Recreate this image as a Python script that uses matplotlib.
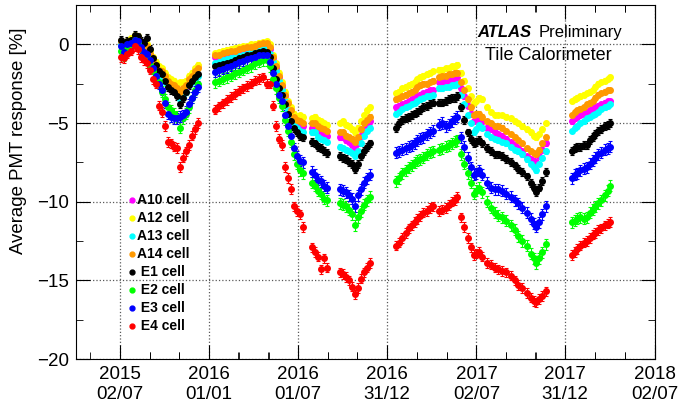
import matplotlib
matplotlib.use('Agg')
import matplotlib.pyplot as plt
import pandas as pd
from matplotlib.ticker import MultipleLocator

plt.rcParams['font.family'] = ['Liberation Sans', 'DejaVu Sans']

#------------------
# dates of the calibration runs (gaps = shutdowns)
dates = pd.to_datetime([
    # 2015
    '2015-07-04', '2015-07-10', '2015-07-16', '2015-07-25', '2015-08-02', '2015-08-08', '2015-08-14',
    '2015-08-20', '2015-08-26', '2015-09-02', '2015-09-08', '2015-09-14', '2015-09-20', '2015-09-26',
    '2015-10-02', '2015-10-08', '2015-10-15', '2015-10-21', '2015-10-27', '2015-11-02', '2015-11-08',
    '2015-11-14', '2015-11-20', '2015-11-27', '2015-12-03', '2015-12-09',
    # 2016
    '2016-01-13', '2016-01-21', '2016-01-30', '2016-02-07', '2016-02-15', '2016-02-23', '2016-03-02',
    '2016-03-11', '2016-03-19', '2016-03-27', '2016-04-04', '2016-04-12', '2016-04-21', '2016-04-29',
    '2016-05-05', '2016-05-11', '2016-05-17', '2016-05-23', '2016-05-30', '2016-06-05', '2016-06-11',
    '2016-06-17', '2016-06-23', '2016-06-29', '2016-07-05', '2016-07-12',
    '2016-07-30', '2016-08-05', '2016-08-11', '2016-08-17', '2016-08-24', '2016-08-30',
    '2016-09-25', '2016-10-01', '2016-10-08', '2016-10-14', '2016-10-20', '2016-10-26', '2016-11-01',
    '2016-11-07', '2016-11-13', '2016-11-19', '2016-11-25',
    # 2017
    '2017-01-19', '2017-01-25', '2017-01-31', '2017-02-07', '2017-02-13', '2017-02-19', '2017-02-25',
    '2017-03-03', '2017-03-09', '2017-03-15', '2017-03-22', '2017-03-28', '2017-04-03',
    '2017-04-17', '2017-04-23', '2017-04-30', '2017-05-06', '2017-05-12', '2017-05-18', '2017-05-24',
    '2017-06-01', '2017-06-07', '2017-06-14', '2017-06-20', '2017-06-26', '2017-07-02', '2017-07-08',
    '2017-07-14', '2017-07-23', '2017-07-31', '2017-08-08', '2017-08-16', '2017-08-24', '2017-09-01',
    '2017-09-10', '2017-09-18', '2017-09-26', '2017-10-04', '2017-10-13', '2017-10-21', '2017-10-27',
    '2017-11-02', '2017-11-08', '2017-11-14', '2017-11-21',
    # 2018
    '2018-01-13', '2018-01-19', '2018-01-25', '2018-01-31', '2018-02-07', '2018-02-13', '2018-02-19',
    '2018-02-25', '2018-03-03', '2018-03-09', '2018-03-15', '2018-03-22', '2018-03-28', '2018-04-01',
])

a10 = [0.1, -0.3, 0.1, 0.3, 0.5, 0.4, 0.0, -0.3, -0.2, -0.6, -1.0, -1.3, -1.6, -1.8, -2.1, -2.4, -2.5, -2.7, -2.9, -3.1, -2.9, -2.7, -2.3, -2.0, -1.7, -1.4,
       -0.8, -0.75, -0.65, -0.6, -0.55, -0.5, -0.4, -0.35, -0.3, -0.25, -0.2, -0.1, 0.0, 0.0, -0.3, -0.9, -1.5, -2.1, -2.7, -3.3, -3.9, -4.4, -4.8, -5.0, -5.1, -5.2,
       -5.3, -5.3, -5.5, -5.6, -5.7, -5.8,
       -5.9, -5.9, -6.1, -6.2, -6.4, -6.6, -6.3, -5.8, -5.4, -5.1, -4.9,
       -4.0, -3.9, -3.8, -3.7, -3.6, -3.5, -3.4, -3.3, -3.2, -3.1, -3.0, -2.9, -2.9,
       -2.4, -2.4, -2.3, -2.3, -2.2, -2.2, -2.1,
       -2.8, -3.3, -3.9, -4.4, -4.9, -4.8, -4.7, -4.9, -5.3, -5.4, -5.6, -5.7, -5.8, -6.0, -6.2, -6.4, -6.6, -6.8, -7.1, -7.3, -7.4, -7.5, -7.1, -6.7, -6.3,
       -4.9, -4.7, -4.6, -4.5, -4.4, -4.3, -4.2, -4.1, -4.0, -3.9, -3.8, -3.7, -3.6, -3.6]
a12 = [0.2, -0.2, 0.2, 0.4, 0.6, 0.5, 0.1, -0.2, 0.0, -0.4, -0.8, -1.1, -1.4, -1.5, -1.8, -2.1, -2.2, -2.3, -2.5, -2.4, -2.4, -2.3, -2.0, -1.8, -1.5, -1.3,
       -0.55, -0.5, -0.4, -0.35, -0.3, -0.25, -0.2, -0.1, -0.1, 0.0, 0.0, 0.1, 0.15, 0.2, 0.0, -0.7, -1.2, -1.8, -2.4, -3.0, -3.6, -4.0, -4.4, -4.6, -4.5, -4.6,
       -4.7, -4.6, -4.8, -4.9, -5.0, -5.1,
       -5.0, -4.9, -5.1, -5.2, -5.4, -5.6, -5.3, -4.9, -4.5, -4.2, -4.0,
       -3.1, -3.0, -2.8, -2.7, -2.6, -2.5, -2.4, -2.2, -2.1, -2.0, -1.9, -1.8, -1.7,
       -1.6, -1.6, -1.5, -1.5, -1.4, -1.4, -1.3,
       -1.8, -2.3, -2.8, -3.3, -3.7, -3.6, -3.4, -3.5, -4.0, -4.3, -4.5, -4.5, -4.5, -4.6, -4.7, -4.9, -5.0, -5.2, -5.4, -5.6, -5.8, -5.9, -5.7, -5.4, -5.0,
       -3.6, -3.5, -3.4, -3.3, -3.2, -3.1, -3.0, -2.9, -2.7, -2.5, -2.4, -2.3, -2.2, -2.1]
a13 = [0.0, -0.4, 0.0, 0.2, 0.4, 0.2, -0.2, -0.5, -0.3, -0.8, -1.2, -1.5, -1.8, -2.0, -2.4, -2.7, -2.8, -2.9, -3.1, -3.5, -3.2, -3.0, -2.6, -2.4, -2.2, -2.0,
       -1.2, -1.1, -1.0, -0.95, -0.9, -0.8, -0.75, -0.65, -0.6, -0.5, -0.45, -0.35, -0.3, -0.3, -0.6, -1.1, -1.7, -2.3, -2.9, -3.6, -4.2, -4.8, -5.1, -5.3, -5.5, -5.6,
       -5.6, -5.6, -5.9, -6.0, -6.1, -6.2,
       -6.5, -6.6, -6.7, -6.8, -6.9, -7.1, -6.8, -6.3, -5.8, -5.5, -5.3,
       -4.4, -4.3, -4.1, -4.0, -3.9, -3.8, -3.7, -3.6, -3.5, -3.4, -3.3, -3.3, -3.2,
       -2.8, -2.8, -2.7, -2.7, -2.6, -2.6, -2.5,
       -3.2, -3.8, -4.5, -5.0, -5.6, -5.4, -5.1, -5.3, -5.7, -5.9, -6.0, -6.1, -6.2, -6.3, -6.5, -6.7, -6.8, -7.0, -7.3, -7.6, -7.8, -8.0, -7.6, -7.2, -6.8,
       -5.5, -5.3, -5.2, -5.0, -4.9, -4.7, -4.6, -4.5, -4.4, -4.3, -4.1, -4.0, -3.9, -3.8]
a14 = [0.2, -0.3, 0.1, 0.3, 0.5, 0.4, 0.0, -0.3, -0.1, -0.6, -1.0, -1.3, -1.6, -1.7, -2.0, -2.3, -2.5, -2.6, -2.8, -3.0, -2.8, -2.6, -2.2, -2.0, -1.7, -1.5,
       -0.7, -0.65, -0.55, -0.5, -0.45, -0.4, -0.3, -0.25, -0.2, -0.15, -0.1, 0.0, 0.1, 0.1, -0.2, -0.8, -1.4, -2.0, -2.6, -3.2, -3.7, -4.2, -4.6, -4.8, -4.9, -5.0,
       -5.0, -5.0, -5.2, -5.3, -5.4, -5.5,
       -5.6, -5.6, -5.8, -5.9, -6.0, -6.2, -5.9, -5.4, -5.0, -4.8, -4.6,
       -3.5, -3.4, -3.3, -3.2, -3.1, -3.0, -2.9, -2.7, -2.6, -2.5, -2.5, -2.4, -2.3,
       -2.1, -2.0, -2.0, -1.9, -1.9, -1.8, -1.8,
       -2.4, -2.9, -3.5, -4.0, -4.5, -4.4, -4.4, -4.6, -4.9, -5.0, -5.2, -5.2, -5.3, -5.5, -5.7, -5.9, -6.1, -6.3, -6.6, -6.8, -6.9, -7.0, -6.7, -6.3, -5.9,
       -4.5, -4.3, -4.2, -4.1, -4.0, -3.8, -3.7, -3.6, -3.4, -3.2, -3.1, -3.0, -2.9, -2.9]
e1 = [0.3, -0.1, 0.2, 0.3, 0.6, 0.5, 0.2, 0.1, 0.4, -0.3, -0.9, -1.3, -1.7, -1.9, -2.3, -2.7, -2.9, -3.0, -3.3, -3.8, -3.4, -3.0, -2.6, -2.3, -2.1, -1.9,
      -1.4, -1.3, -1.25, -1.2, -1.1, -1.0, -0.9, -0.8, -0.7, -0.65, -0.55, -0.5, -0.45, -0.5, -0.8, -1.5, -2.2, -2.8, -3.2, -3.8, -4.4, -4.9, -5.3, -5.6, -5.8, -5.9,
      -6.2, -6.3, -6.5, -6.6, -6.8, -6.9,
      -7.1, -7.2, -7.3, -7.5, -7.6, -7.9, -7.6, -7.1, -6.8, -6.5, -6.3,
      -5.3, -5.0, -4.8, -4.7, -4.6, -4.5, -4.4, -4.3, -4.2, -4.0, -3.9, -3.8, -3.7,
      -3.7, -3.7, -3.6, -3.5, -3.4, -3.4, -3.3,
      -4.0, -4.8, -5.6, -6.0, -6.3, -6.2, -6.1, -6.3, -6.6, -6.8, -7.0, -7.0, -7.1, -7.3, -7.5, -7.7, -7.9, -8.1, -8.4, -8.8, -9.1, -9.4, -9.1, -8.7, -8.1,
      -6.8, -6.6, -6.5, -6.5, -6.4, -6.4, -6.1, -5.9, -5.7, -5.5, -5.4, -5.2, -5.1, -5.0]
e2 = [-0.4, -0.7, -0.2, 0.0, 0.3, 0.1, -0.3, -0.7, -0.8, -1.3, -1.7, -2.0, -2.4, -3.0, -3.5, -4.0, -4.2, -4.4, -4.6, -5.3, -4.7, -4.4, -4.0, -3.4, -2.9, -2.5,
      -2.4, -2.3, -2.2, -2.1, -2.0, -1.85, -1.75, -1.6, -1.5, -1.4, -1.2, -1.1, -1.0, -1.0, -1.4, -2.2, -2.8, -3.4, -3.9, -4.8, -5.5, -6.2, -7.0, -7.6, -8.0, -8.2,
      -8.8, -9.0, -9.3, -9.5, -9.8, -9.9,
      -10.1, -10.2, -10.3, -10.5, -10.8, -11.5, -11.0, -10.6, -10.2, -9.9, -9.7,
      -8.7, -8.5, -8.2, -8.0, -7.8, -7.7, -7.5, -7.4, -7.3, -7.2, -7.0, -6.9, -6.8,
      -6.7, -6.6, -6.5, -6.4, -6.3, -6.2, -6.1,
      -7.0, -7.6, -8.2, -8.8, -9.5, -9.3, -9.1, -9.4, -10.0, -10.4, -10.7, -10.9, -11.0, -11.2, -11.5, -11.8, -12.2, -12.5, -12.8, -13.3, -13.6, -13.9, -13.6, -13.2, -12.7,
      -11.3, -11.2, -11.1, -11.0, -11.1, -11.0, -10.7, -10.5, -10.3, -10.1, -9.9, -9.6, -9.3, -9.0]
e3 = [-0.1, -0.5, 0.0, 0.1, 0.3, 0.2, -0.2, -0.5, -0.6, -1.0, -1.5, -2.0, -2.5, -2.9, -3.7, -4.4, -4.6, -4.7, -4.7, -4.6, -4.5, -4.3, -3.8, -3.4, -3.0, -2.7,
      -1.75, -1.65, -1.55, -1.45, -1.35, -1.25, -1.15, -1.05, -0.95, -0.9, -0.8, -0.7, -0.65, -0.7, -1.1, -1.8, -2.5, -3.2, -3.6, -4.5, -5.2, -5.8, -6.6, -7.1, -7.4, -7.5,
      -8.1, -8.3, -8.6, -8.7, -9.0, -9.1,
      -9.2, -9.3, -9.4, -9.6, -9.8, -10.3, -9.6, -9.2, -8.8, -8.5, -8.3,
      -6.9, -6.8, -6.7, -6.6, -6.5, -6.4, -6.3, -6.1, -6.0, -5.9, -5.7, -5.6, -5.5,
      -5.1, -5.0, -5.2, -5.1, -4.9, -4.7, -4.6,
      -5.9, -6.5, -7.2, -7.8, -8.3, -8.2, -8.0, -8.3, -8.8, -9.1, -9.2, -9.2, -9.3, -9.5, -9.7, -9.9, -10.1, -10.4, -10.7, -11.1, -11.4, -11.6, -11.3, -10.8, -10.3,
      -8.5, -8.3, -8.2, -8.0, -7.9, -7.8, -7.6, -7.4, -7.2, -7.0, -6.9, -6.7, -6.6, -6.5]
e4 = [-0.8, -0.9, -0.6, -0.4, -0.1, -0.3, -0.8, -1.0, -1.2, -1.6, -2.2, -2.5, -3.9, -4.3, -5.2, -6.2, -6.3, -6.5, -6.6, -7.8, -7.2, -6.8, -6.4, -5.8, -5.4, -5.0,
      -4.15, -3.95, -3.75, -3.55, -3.35, -3.15, -2.95, -2.8, -2.65, -2.5, -2.3, -2.2, -2.1, -2.5, -2.5, -3.9, -5.2, -6.0, -6.4, -7.8, -8.5, -9.2, -10.3, -10.6, -10.8, -11.6,
      -12.9, -13.2, -13.5, -14.3, -13.6, -14.2,
      -14.5, -14.6, -14.8, -15.0, -15.4, -15.9, -15.5, -14.9, -14.5, -14.2, -13.9,
      -12.8, -12.6, -12.3, -12.0, -11.7, -11.5, -11.3, -11.1, -10.9, -10.7, -10.6, -10.4, -10.3,
      -10.6, -10.5, -10.4, -10.2, -10.0, -9.9, -9.7,
      -11.0, -11.6, -12.3, -12.9, -13.4, -13.3, -13.2, -13.5, -13.9, -14.0, -14.2, -14.3, -14.4, -14.5, -14.7, -15.0, -15.3, -15.5, -15.8, -16.1, -16.3, -16.4, -16.2, -16.0, -15.7,
      -13.4, -13.2, -13.0, -12.8, -12.6, -12.5, -12.3, -12.1, -12.0, -11.8, -11.7, -11.5, -11.4, -11.3]

cells = ['A10 cell', 'A12 cell', 'A13 cell', 'A14 cell', ' E1 cell', ' E2 cell', ' E3 cell', ' E4 cell']
colors = ['#ff00ff', '#ffff00', '#00ffff', '#ff9900', 'black', '#00ff00', '#0000ff', '#ff0000']
errors = [0.15, 0.15, 0.15, 0.15, 0.25, 0.35, 0.35, 0.3]
series = [a10, a12, a13, a14, e1, e2, e3, e4]

tick_dates = pd.to_datetime(['2015-07-02', '2016-01-01', '2016-07-01', '2016-12-31',
                             '2017-07-02', '2017-12-31', '2018-07-02'])
tick_labels = ['2015\n02/07', '2016\n01/01', '2016\n01/07', '2016\n31/12',
               '2017\n02/07', '2017\n31/12', '2018\n02/07']

#------------------
fig = plt.figure(figsize=(6.78, 4.05), dpi=100)
ax = fig.add_axes([76/678, 46/405, 579/678, 354/405])

for vals, col, err in zip(series, colors, errors):
    ax.errorbar(dates, vals, yerr=err, fmt='o', color=col, mec=col, ms=4,
                elinewidth=0.8, capsize=1.5, capthick=0.8)

x0, x1 = pd.Timestamp('2015-04-03'), pd.Timestamp('2018-07-03')

ax.set_xticks(tick_dates)
ax.set_xticklabels(tick_labels, fontsize=13.5, linespacing=1.25)
minor = [d + pd.Timedelta(days=k) for d in tick_dates for k in (-122, -61, 61, 122)]
minor = [d for d in minor if x0 < d < x1]
ax.set_xticks(minor, minor=True)
ax.set_yticks([0, -5, -10, -15, -20])
ax.yaxis.set_minor_locator(MultipleLocator(2.5))
ax.set_xlim(x0, x1)
ax.set_ylim(-20, 2.5)

ax.tick_params(axis='y', labelsize=13.5, pad=5)
ax.tick_params(axis='x', pad=5)
ax.tick_params(which='both', direction='in', top=True, right=True)
ax.tick_params(which='major', length=10)
ax.tick_params(which='minor', length=5)
ax.grid(True, which='major', linestyle=':', color='0.35', linewidth=0.9)
ax.set_axisbelow(True)

fig.text(19/678, 1 - 28/405, 'Average PMT response [%]', rotation=90,
         ha='center', va='top', fontsize=13.4)

fig.text(477/678, 1 - 37/405, 'ATLAS', fontsize=12, fontweight='bold', fontstyle='italic')
fig.text(539/678, 1 - 37/405, 'Preliminary', fontsize=12)
fig.text(485/678, 1 - 60/405, 'Tile Calorimeter', fontsize=13)

# legend
for i, (lab, col) in enumerate(zip(cells, colors)):
    y = 0.449 - i * 0.0508
    ax.plot(0.096, y, 'o', color=col, ms=3.5, transform=ax.transAxes)
    ax.text(0.105, y, lab, transform=ax.transAxes, fontsize=10, fontweight='bold', va='center')

fig.savefig('out.png', dpi=100)
